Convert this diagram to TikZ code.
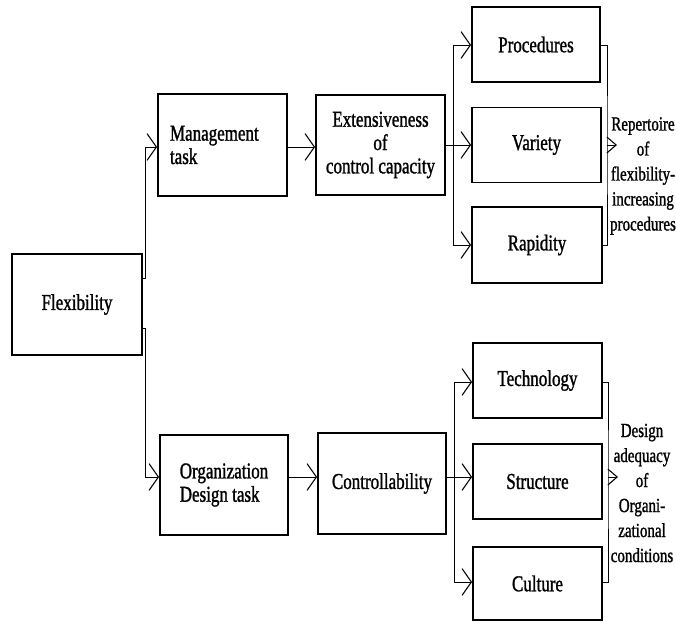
\documentclass[tikz,border=0pt]{standalone}
\usepackage{fontspec}
\setmainfont[FakeStretch=0.75,FakeBold=1.2]{Liberation Serif}
\usetikzlibrary{arrows.meta}
\begin{document}
\begin{tikzpicture}[x=0.75pt,y=-0.75pt,
  box/.style={draw, line width=1.4pt, inner sep=0pt, font=\fontsize{17}{17.5}\selectfont, align=center},
  conn/.style={line width=0.7pt},
  arr/.style={conn, -{Straight Barb[length=7pt,width=20pt,line width=0.8pt]}},
  outarr/.style={conn, -{Straight Barb[length=7pt,width=12pt,line width=0.8pt]}},
  lab/.style={font=\fontsize{15}{18.75}\selectfont, align=center, inner sep=0pt}]
\useasboundingbox (0,0) rectangle (676,622);

% rows
\coordinate (ra) at (0,147);
\coordinate (rb) at (0,477);
\coordinate (r1) at (0,45);
\coordinate (r3) at (0,245);
\coordinate (r4) at (0,382);
\coordinate (r6) at (0,582);

% boxes
\node[box, minimum width=97.5pt, minimum height=75.75pt] (flex) at (77,304.5) {Flexibility};
\node[box, minimum width=96.75pt, minimum height=76.5pt, text width=78.75pt, inner xsep=9pt, align=left] (mgmt) at (222.5,145) {Management\\task};
\node[box, minimum width=96.75pt, minimum height=75pt] (ext) at (380.5,145) {Extensiveness\\of\\control capacity};
\node[box, minimum width=96pt, minimum height=56.25pt] (proc) at (536,44.5) {Procedures};
\node[box, minimum width=96.75pt, minimum height=56.25pt] (var) at (536.5,145) {Variety};
\node[box, minimum width=97.5pt, minimum height=57pt] (rap) at (537,245) {Rapidity};
\node[box, minimum width=96pt, minimum height=75pt, align=left] (org) at (224,485) {Organization\\Design task};
\node[box, minimum width=96pt, minimum height=75.75pt] (contr) at (382,483.5) {Controllability};
\node[box, minimum width=96.75pt, minimum height=56.25pt] (tech) at (537.5,380.5) {Technology};
\node[box, minimum width=96.75pt, minimum height=56.25pt] (struc) at (537.5,481.5) {Structure};
\node[box, minimum width=96.75pt, minimum height=54.75pt] (cult) at (537.5,583.5) {Culture};

% labels
\node[lab] (rep) at (643,176) {Repertoire\\of\\flexibility-\\increasing\\procedures};
\node[lab] (des) at (642,493) {Design\\adequacy\\of\\Organi-\\zational\\conditions};

% junctions
\coordinate (jt) at (145,278);
\coordinate (jb) at (145,328);
\coordinate (sa) at (453,145);
\coordinate (sb) at (454,477);
\coordinate (ca) at (607,145);
\coordinate (cb) at (608,477);
\coordinate (ta) at (617,145);
\coordinate (tb) at (618,477);

% connectors
\draw[arr] (flex.east |- jt) -- (jt) |- (mgmt.west |- ra);
\draw[arr] (flex.east |- jb) -- (jb) |- (org.west |- rb);
\draw[arr] (mgmt.east |- ra) -- (ext.west |- ra);
\draw[arr] (org.east |- rb) -- (contr.west |- rb);

\draw[conn] (ext.east |- sa) -- (sa);
\draw[arr] (sa) |- (proc.west |- r1);
\draw[arr] (sa) -- (var.west |- sa);
\draw[arr] (sa) |- (rap.west |- r3);
\draw[conn] (proc.east |- r1) -| (ca) |- (rap.east |- r3);
\draw[outarr] (ca) -- (ta);

\draw[conn] (contr.east |- sb) -- (sb);
\draw[arr] (sb) |- (tech.west |- r4);
\draw[arr] (sb) -- (struc.west |- sb);
\draw[arr] (sb) |- (cult.west |- r6);
\draw[conn] (tech.east |- r4) -| (cb) |- (cult.east |- r6);
\draw[outarr] (cb) -- (tb);
\end{tikzpicture}
\end{document}
